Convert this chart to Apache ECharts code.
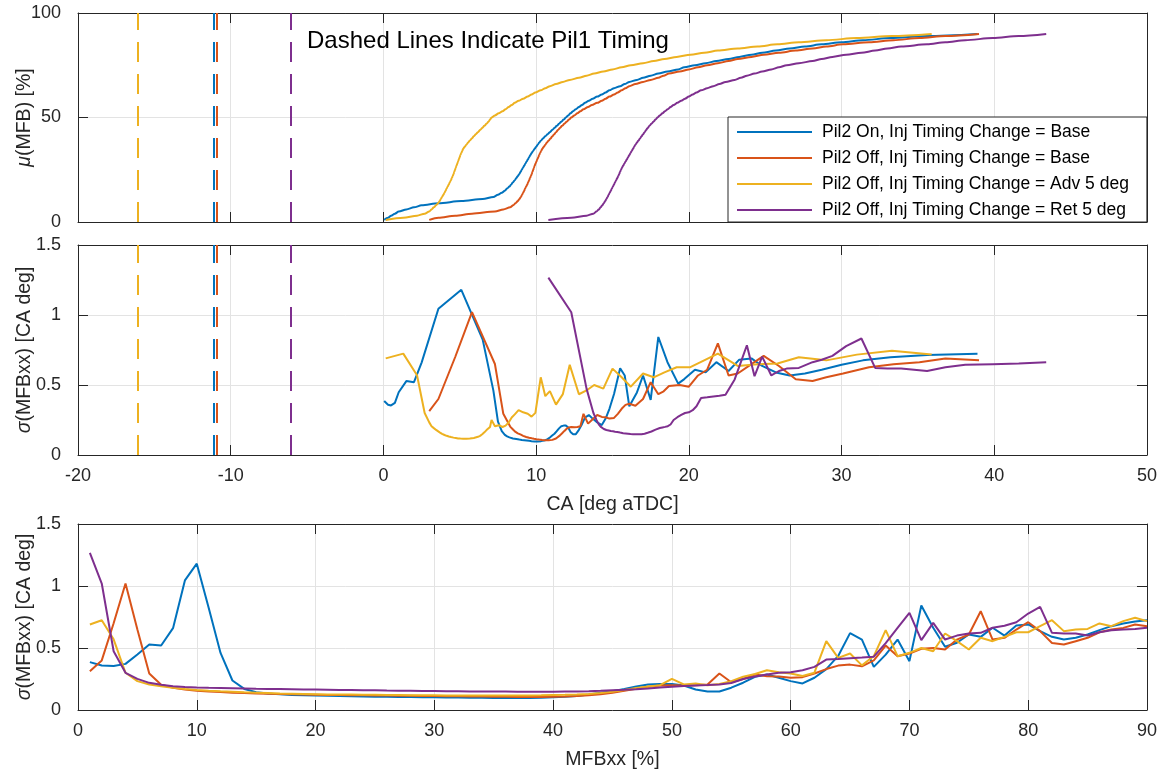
<!DOCTYPE html>
<html>
<head>
<meta charset="utf-8">
<script src="https://cdn.jsdelivr.net/npm/echarts@6/dist/echarts.min.js"></script>
<style>
html,body{margin:0;padding:0;background:#fff;}
#chart{width:1166px;height:774px;}
</style>
</head>
<body>
<div id="chart"></div>
<script>
// ---------- DATA ----------
const seriesNames = [
  'Pil2 On, Inj Timing Change = Base',
  'Pil2 Off, Inj Timing Change = Base',
  'Pil2 Off, Inj Timing Change = Adv 5 deg',
  'Pil2 Off, Inj Timing Change = Ret 5 deg'
];
const pil1Timing = [-11.1, -10.9, -16.1, -6.1];

const mfbLevels = [1,2,3,4,5,6,7,8,9,10,11,12,13,14,15,16,17,18,19,20,
  21,22,23,24,25,26,27,28,29,30,31,32,33,34,35,36,37,38,39,40,
  41,42,43,44,45,46,47,48,49,50,51,52,53,54,55,56,57,58,59,60,
  61,62,63,64,65,66,67,68,69,70,71,72,73,74,75,76,77,78,79,80,
  81,82,83,84,85,86,87,88,89,90];

// mean CA at each MFB level [deg aTDC]
const caOnBase = [0.05,0.3,0.5,0.75,1.0,1.5,2.0,2.5,3.6,5.1, 6.5,7.2,7.5,7.75,7.95,8.1,8.25,8.37,8.48,8.6,
  8.7,8.8,8.9,8.98,9.06,9.14,9.22,9.3,9.38,9.46, 9.54,9.62,9.7,9.8,9.9,10.0,10.1,10.2,10.32,10.45,
  10.6,10.75,10.9,11.05,11.2,11.35,11.5,11.65,11.8,11.95, 12.1,12.25,12.42,12.6,12.8,13.0,13.2,13.45,13.7,14.0,
  14.3,14.55,14.8,15.1,15.5,15.8,16.1,16.6,17.0,17.5, 18.0,18.6,19.3,19.7,20.4,21.1,21.8,22.6,23.3,24.1,
  24.8,25.7,26.6,27.6,28.7,30.0,31.4,33.2,35.6,38.9];
const caOffBase = [3.0,3.6,4.7,5.8,7.3,7.85,8.3,8.5,8.65,8.8, 8.9,9.0,9.08,9.15,9.22,9.28,9.35,9.42,9.48,9.54,
  9.6,9.66,9.71,9.76,9.81,9.86,9.91,9.96,10.02,10.08, 10.14,10.2,10.26,10.33,10.4,10.5,10.6,10.7,10.82,10.94,
  11.06,11.18,11.3,11.43,11.56,11.7,11.85,12.0,12.15,12.3, 12.5,12.7,12.9,13.1,13.4,13.65,14.0,14.3,14.55,14.8,
  15.1,15.35,15.6,15.85,16.1,16.5,17.0,17.5,18.0,18.35, 18.7,19.4,20.0,20.6,21.2,21.9,22.6,23.2,24.1,24.9,
  25.9,27.0,28.1,29.0,30.1,31.8,33.4,35.1,36.8,39.0];
const caAdv5 = [0.15,1.3,2.2,2.7,3.0,3.15,3.3,3.45,3.58,3.68, 3.76,3.84,3.92,4.0,4.07,4.14,4.21,4.28,4.35,4.42,
  4.48,4.54,4.59,4.64,4.69,4.74,4.79,4.84,4.89,4.94, 4.99,5.04,5.1,5.16,5.22,5.32,5.43,5.54,5.66,5.79,
  5.92,6.05,6.19,6.33,6.47,6.61,6.75,6.88,6.98,7.08, 7.3,7.55,7.8,8.0,8.2,8.4,8.6,8.85,9.15,9.45,
  9.7,9.95,10.3,10.6,10.9,11.3,11.75,12.2,12.8,13.3, 13.8,14.4,15.0,15.6,16.2,17.0,17.7,18.4,19.2,20.1,
  21.0,21.9,23.2,24.5,25.8,27.2,29.0,31.0,33.3,35.9];
const caRet5 = [10.8,12.3,13.3,13.75,13.95,14.1,14.22,14.33,14.43,14.52, 14.6,14.68,14.75,14.82,14.89,14.96,15.03,15.1,15.17,15.24,
  15.31,15.38,15.44,15.5,15.56,15.62,15.7,15.78,15.86,15.94, 16.02,16.1,16.18,16.26,16.34,16.42,16.5,16.6,16.7,16.8,
  16.9,17.0,17.1,17.2,17.3,17.42,17.55,17.68,17.82,17.95, 18.1,18.27,18.44,18.62,18.8,19.0,19.25,19.5,19.75,20.0,
  20.25,20.5,20.8,21.2,21.6,22.0,22.4,23.0,23.4,23.8, 24.3,24.8,25.4,25.9,26.4,27.2,28.1,28.7,29.4,30.3,
  31.3,32.2,33.0,33.9,35.6,36.8,38.1,39.9,41.6,43.4];

// std dev of CA at each MFB level [CA deg]
const sdOnBase = [0.386,0.359,0.354,0.372,0.448,0.528,0.52,0.66,1.045,1.18, 0.824,0.46,0.238,0.17,0.144,0.133,0.126,0.121,0.118,0.116,
  0.114,0.112,0.11,0.108,0.107,0.106,0.105,0.104,0.103,0.102, 0.101,0.1,0.099,0.098,0.097,0.096,0.096,0.097,0.099,0.102,
  0.106,0.113,0.125,0.139,0.152,0.17,0.19,0.206,0.21,0.21, 0.197,0.165,0.149,0.149,0.18,0.22,0.267,0.286,0.26,0.233,
  0.214,0.26,0.33,0.436,0.62,0.568,0.348,0.447,0.568,0.394, 0.843,0.663,0.51,0.542,0.609,0.59,0.663,0.6,0.681,0.69,
  0.636,0.59,0.568,0.582,0.609,0.644,0.676,0.698,0.714,0.724];
const sdOffBase = [0.313,0.40,0.70,1.02,0.65,0.294,0.203,0.18,0.165,0.155, 0.15,0.145,0.14,0.137,0.134,0.131,0.129,0.127,0.125,0.123,
  0.121,0.12,0.119,0.118,0.117,0.116,0.115,0.114,0.113,0.112, 0.111,0.11,0.109,0.108,0.107,0.106,0.105,0.105,0.105,0.106,
  0.108,0.112,0.118,0.127,0.14,0.155,0.172,0.188,0.197,0.2, 0.198,0.2,0.205,0.294,0.224,0.25,0.286,0.272,0.27,0.26,
  0.265,0.294,0.33,0.358,0.366,0.352,0.4,0.52,0.434,0.455, 0.493,0.5,0.488,0.568,0.609,0.797,0.568,0.582,0.649,0.708,
  0.636,0.541,0.528,0.555,0.582,0.627,0.649,0.662,0.69,0.676];
const sdAdv5 = [0.69,0.724,0.57,0.30,0.233,0.206,0.192,0.179,0.17,0.162, 0.156,0.151,0.147,0.143,0.14,0.137,0.134,0.132,0.13,0.128,
  0.126,0.125,0.124,0.123,0.122,0.121,0.12,0.119,0.118,0.118, 0.117,0.117,0.116,0.116,0.116,0.116,0.116,0.117,0.118,0.12,
  0.122,0.125,0.13,0.137,0.148,0.162,0.178,0.19,0.2,0.251, 0.206,0.213,0.2,0.21,0.232,0.268,0.29,0.321,0.305,0.295,
  0.274,0.301,0.555,0.42,0.456,0.36,0.435,0.644,0.434,0.461, 0.5,0.474,0.617,0.555,0.488,0.582,0.555,0.59,0.627,0.627,
  0.676,0.724,0.636,0.649,0.654,0.698,0.676,0.717,0.744,0.717];
const sdRet5 = [1.267,1.02,0.474,0.30,0.251,0.219,0.203,0.192,0.186,0.182, 0.179,0.177,0.175,0.173,0.171,0.17,0.169,0.168,0.166,0.165,
  0.164,0.162,0.161,0.16,0.159,0.157,0.156,0.155,0.154,0.153, 0.152,0.151,0.15,0.15,0.149,0.149,0.148,0.148,0.148,0.148,
  0.149,0.15,0.152,0.155,0.159,0.163,0.168,0.174,0.181,0.188, 0.193,0.197,0.201,0.206,0.218,0.25,0.27,0.286,0.3,0.305,
  0.32,0.348,0.407,0.412,0.418,0.423,0.43,0.54,0.662,0.784, 0.563,0.703,0.568,0.6,0.617,0.622,0.663,0.68,0.708,0.778,
  0.832,0.622,0.617,0.617,0.6,0.627,0.644,0.649,0.654,0.663];

const caMeans = [caOnBase, caOffBase, caAdv5, caRet5];
const caStds = [sdOnBase, sdOffBase, sdAdv5, sdRet5];

// ---------- STYLE ----------
const colors = ['#0072BD', '#D95319', '#EDB120', '#7E2F8E'];
const FONT = 'Liberation Sans, Arial, Helvetica, sans-serif';
const AX = '#262626';
const GRIDC = '#e3e3e3';

function mkAxis(o) {
  const labels = o.labels !== false;
  return Object.assign({
    type: 'value',
    nameMoveOverlap: false,
    axisLine: { show: true, onZero: false, lineStyle: { color: AX, width: 1 } },
    axisTick: { show: true, inside: true, length: 10, lineStyle: { color: AX, width: 1 } },
    axisLabel: { show: labels, color: AX, fontSize: 18, fontFamily: FONT, margin: o.margin || 12,
                 showMinLabel: true, showMaxLabel: true },
    splitLine: { show: !!o.split, lineStyle: { color: GRIDC, width: 1 } },
    nameTextStyle: { color: AX, fontSize: 19.5, fontFamily: FONT,
      rich: { i: { fontStyle: 'italic', fontSize: 19.5, fontFamily: FONT, color: AX } } }
  }, o.extra);
}

const xAxes = [
  mkAxis({ labels: false, split: true, extra: { gridIndex: 0, position: 'bottom', min: -20, max: 50, interval: 10 } }),
  mkAxis({ labels: false, split: false, extra: { gridIndex: 0, position: 'top', min: -20, max: 50, interval: 10 } }),
  mkAxis({ labels: true, split: true, margin: 12, extra: { gridIndex: 1, position: 'bottom', min: -20, max: 50, interval: 10,
    name: 'CA [deg aTDC]', nameLocation: 'middle', nameGap: 40 } }),
  mkAxis({ labels: false, split: false, extra: { gridIndex: 1, position: 'top', min: -20, max: 50, interval: 10 } }),
  mkAxis({ labels: true, split: true, margin: 12, extra: { gridIndex: 2, position: 'bottom', min: 0, max: 90, interval: 10,
    name: 'MFBxx [%]', nameLocation: 'middle', nameGap: 40 } }),
  mkAxis({ labels: false, split: false, extra: { gridIndex: 2, position: 'top', min: 0, max: 90, interval: 10 } })
];
const yAxes = [
  mkAxis({ labels: true, split: true, margin: 17, extra: { gridIndex: 0, position: 'left', min: 0, max: 100, interval: 50,
    name: '{i|μ}(MFB) [%]', nameLocation: 'middle', nameGap: 43, nameRotate: 90 } }),
  mkAxis({ labels: false, split: false, extra: { gridIndex: 0, position: 'right', min: 0, max: 100, interval: 50 } }),
  mkAxis({ labels: true, split: true, margin: 17, extra: { gridIndex: 1, position: 'left', min: 0, max: 1.5, interval: 0.5,
    name: '{i|σ}(MFBxx) [CA deg]', nameLocation: 'middle', nameGap: 43, nameRotate: 90 } }),
  mkAxis({ labels: false, split: false, extra: { gridIndex: 1, position: 'right', min: 0, max: 1.5, interval: 0.5 } }),
  mkAxis({ labels: true, split: true, margin: 17, extra: { gridIndex: 2, position: 'left', min: 0, max: 1.5, interval: 0.5,
    name: '{i|σ}(MFBxx) [CA deg]', nameLocation: 'middle', nameGap: 43, nameRotate: 90 } }),
  mkAxis({ labels: false, split: false, extra: { gridIndex: 2, position: 'right', min: 0, max: 1.5, interval: 0.5 } })
];

const series = [];
function lineSeries(k, xi, yi, data, withMark, smooth) {
  const s = {
    type: 'line', name: seriesNames[k], xAxisIndex: xi, yAxisIndex: yi,
    data: data, showSymbol: false, symbol: 'none', animation: false,
    lineStyle: { color: colors[k], width: 2 }, itemStyle: { color: colors[k] },
    z: 3 + k
  };
  if (smooth) { s.smooth = 0.3; s.smoothMonotone = 'x'; }
  if (withMark) {
    s.markLine = {
      silent: true, symbol: ['none', 'none'], animation: false,
      label: { show: false },
      lineStyle: { color: colors[k], width: 2, type: [20, 12] },
      data: [{ xAxis: pil1Timing[k] }]
    };
  }
  return s;
}
for (let k = 0; k < 4; k++) {
  series.push(lineSeries(k, 0, 0, mfbLevels.map((m, i) => [caMeans[k][i], m]), true, true));
}
for (let k = 0; k < 4; k++) {
  series.push(lineSeries(k, 2, 2, mfbLevels.map((m, i) => [caMeans[k][i], caStds[k][i]]), true, false));
}
for (let k = 0; k < 4; k++) {
  series.push(lineSeries(k, 4, 4, mfbLevels.map((m, i) => [m, caStds[k][i]]), false, false));
}

const gridBase = { left: 78, right: 19, containLabel: false, outerBoundsMode: 'none' };
const option = {
  backgroundColor: '#fff',
  animation: false,
  textStyle: { fontFamily: FONT },
  title: {
    text: 'Dashed Lines Indicate Pil1 Timing',
    left: 302, top: 24,
    textStyle: { fontSize: 24, fontWeight: 'normal', color: '#000', fontFamily: FONT }
  },
  legend: {
    data: seriesNames,
    orient: 'vertical',
    left: 728, top: 117,
    padding: [5, 18, 2, 9],
    itemGap: 6,
    itemWidth: 75, itemHeight: 2,
    icon: 'rect',
    backgroundColor: '#fff',
    borderColor: AX, borderWidth: 1, borderRadius: 0,
    textStyle: { fontSize: 17.5, color: '#000', fontFamily: FONT, lineHeight: 20, padding: [0, 0, 0, 5] },
    z: 20
  },
  grid: [
    Object.assign({ top: 13, height: 209 }, gridBase),
    Object.assign({ top: 245, height: 210 }, gridBase),
    Object.assign({ top: 524, height: 186 }, gridBase)
  ],
  xAxis: xAxes,
  yAxis: yAxes,
  series: series
};

const chart = echarts.init(document.getElementById('chart'), null, { renderer: 'canvas' });
chart.setOption(option);
</script>
</body>
</html>
